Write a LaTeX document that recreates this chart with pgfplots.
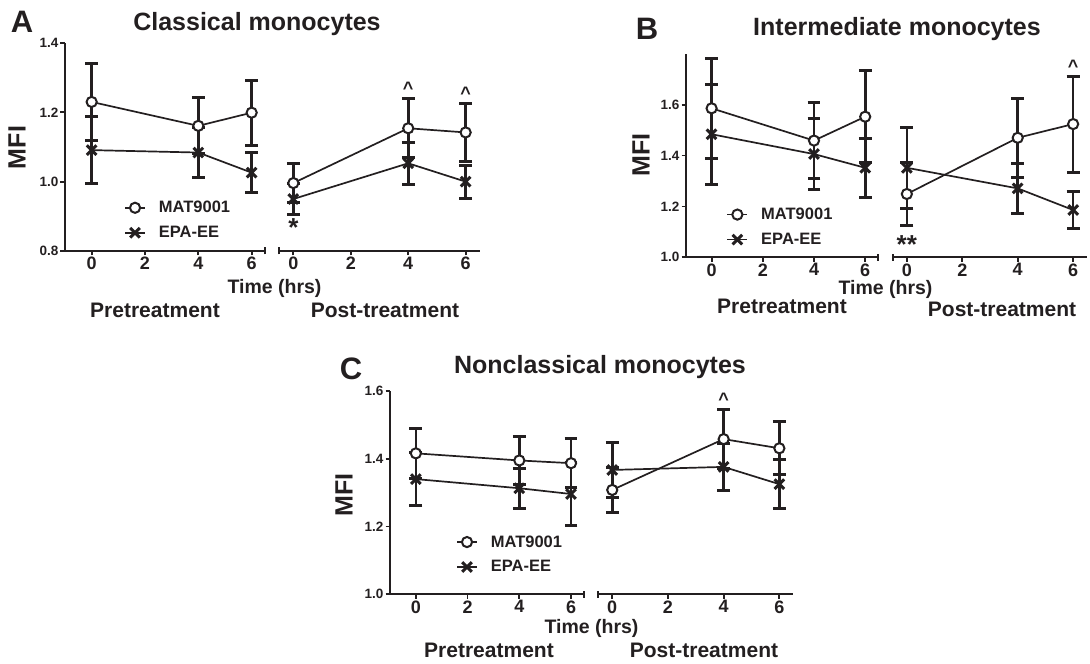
\documentclass[border=0pt]{standalone}
\usepackage{fontspec}
\setmainfont{Liberation Sans}
\usepackage{pgfplots}
\pgfplotsset{compat=1.18}

\newcommand{\fs}[1]{\fontsize{#1}{#1}\selectfont\bfseries}
\definecolor{ink}{HTML}{231F20}

\pgfplotsset{
  seg/.style={
    scale only axis, anchor=south west, clip=false,
    axis x line*=bottom,
    axis line style={line width=1.8pt, ink},
    tick style={line width=1.8pt, ink},
    major tick length=4.5pt, tick align=outside,
    xtick={0,2,4,6},
    /pgf/number format/assume math mode=true,
    x tick label style={font=\fs{18}, text=ink, inner sep=1.5pt},
    y tick label style={font=\fs{13.5}, text=ink, inner sep=2pt,
      /pgf/number format/fixed, /pgf/number format/fixed zerofill,
      /pgf/number format/precision=1},
  },
  segL/.style={seg, axis y line*=left, xmin=-1, xmax=6.5},
  segR/.style={seg, axis y line=none, xmin=-0.5, xmax=6.5},
  errs/.style={/pgfplots/error bars/y dir=both, /pgfplots/error bars/y explicit,
    /pgfplots/error bars/error bar style={line width=2.6pt, ink},
    /pgfplots/error bars/error mark options={rotate=90, ink, line width=3pt, mark size=6.4pt}},
  mat/.style={ink, line width=1.7pt, mark=*, mark size=5.1pt,
    mark options={fill=white, line width=2pt}, errs},
  epa/.style={ink, line width=1.7pt, mark=x, mark size=6.8pt,
    mark options={line width=3pt}, errs},
  leg/.style={legend cell align=left,
    legend style={draw=none, fill=none, at={#1}, anchor=north west,
      font=\fs{16.5}, text=ink, inner sep=0pt, row sep=12pt,
      nodes={inner sep=0pt},
      /tikz/every odd column/.append style={column sep=13pt}},
    legend image code/.code={\draw[mark repeat=2, mark phase=2]
      plot coordinates {(0pt,0pt) (10pt,0pt) (20pt,0pt)};}},
}
\tikzset{brk/.style={line width=1.8pt, ink}}

\begin{document}
\begin{tikzpicture}
\useasboundingbox (0pt,0pt) rectangle (1090pt,664pt);

% ---------------- A: Classical monocytes
\begin{axis}[segL, at={(65pt,413pt)}, width=200pt, height=208pt,
  ymin=0.8, ymax=1.4, ytick={0.8,1.0,1.2,1.4}, leg={(0.295,0.24)}]
\addplot[mat] coordinates {(0,1.230) +- (0,0.112) (4,1.161) +- (0,0.081) (6,1.199) +- (0,0.094)};
\addlegendentry{MAT9001}
\addplot[epa] coordinates {(0,1.091) +- (0,0.096) (4,1.084) +- (0,0.073) (6,1.026) +- (0,0.057)};
\addlegendentry{EPA-EE}
\draw[brk] (rel axis cs:1,0) ++(0pt,-3.5pt) -- ++(0pt,7pt);
\end{axis}
\begin{axis}[segR, at={(279pt,413pt)}, width=201pt, height=208pt,
  ymin=0.8, ymax=1.4]
\addplot[mat] coordinates {(0,0.996) +- (0,0.055) (4,1.154) +- (0,0.085) (6,1.142) +- (0,0.084)};
\addplot[epa] coordinates {(0,0.950) +- (0,0.045) (4,1.053) +- (0,0.060) (6,1.000) +- (0,0.048)};
\draw[brk] (rel axis cs:0,0) ++(0pt,-3.5pt) -- ++(0pt,7pt);
\node[font=\fs{26}, text=ink, inner sep=0pt, anchor=base, yshift=-22pt] at (axis cs:0,0.905) {*};
\node[font=\fs{18}, text=ink, inner sep=0pt, anchor=base, yshift=4pt] at (axis cs:4,1.239) {\textasciicircum};
\node[font=\fs{18}, text=ink, inner sep=0pt, anchor=base, yshift=4pt] at (axis cs:6,1.226) {\textasciicircum};
\end{axis}
\node[font=\fs{31}, text=ink, anchor=base] at (22pt,631pt) {A};
\node[font=\fs{25}, text=ink, anchor=base] at (257pt,633.3pt) {Classical monocytes};
\node[font=\fs{25}, text=ink, rotate=90] at (17pt,516.5pt) {MFI};
\node[font=\fs{19.5}, text=ink, anchor=base] at (274.5pt,370.7pt) {Time (hrs)};
\node[font=\fs{21}, text=ink, anchor=base] at (155pt,346.7pt) {Pretreatment};
\node[font=\fs{21}, text=ink, anchor=base] at (385pt,346.7pt) {Post-treatment};

% ---------------- B: Intermediate monocytes
\begin{axis}[segL, at={(686pt,406.7pt)}, width=192pt, height=203.4pt,
  ymin=1.0, ymax=1.8, ytick={1.0,1.2,1.4,1.6}, leg={(0.21,0.243)}]
\addplot[mat] coordinates {(0,1.586) +- (0,0.197) (4,1.459) +- (0,0.149) (6,1.553) +- (0,0.180)};
\addlegendentry{MAT9001}
\addplot[epa] coordinates {(0,1.484) +- (0,0.197) (4,1.406) +- (0,0.141) (6,1.352) +- (0,0.116)};
\addlegendentry{EPA-EE}
\draw[brk] (rel axis cs:1,0) ++(0pt,-3.5pt) -- ++(0pt,7pt);
\end{axis}
\begin{axis}[segR, at={(893pt,406.7pt)}, width=194pt, height=203.4pt,
  ymin=1.0, ymax=1.8]
\addplot[mat] coordinates {(0,1.249) +- (0,0.125) (4,1.470) +- (0,0.155) (6,1.524) +- (0,0.189)};
\addplot[epa] coordinates {(0,1.352) +- (0,0.160) (4,1.271) +- (0,0.098) (6,1.186) +- (0,0.072)};
\draw[brk] (rel axis cs:0,0) ++(0pt,-3.5pt) -- ++(0pt,7pt);
\node[font=\fs{26}, text=ink, inner sep=0pt, anchor=base, yshift=-28pt] at (axis cs:0,1.124) {**};
\node[font=\fs{18}, text=ink, inner sep=0pt, anchor=base, yshift=4pt] at (axis cs:6,1.713) {\textasciicircum};
\end{axis}
\node[font=\fs{31}, text=ink, anchor=base] at (647pt,624pt) {B};
\node[font=\fs{25}, text=ink, anchor=base] at (897pt,628pt) {Intermediate monocytes};
\node[font=\fs{25}, text=ink, rotate=90] at (641pt,509pt) {MFI};
\node[font=\fs{19.5}, text=ink, anchor=base] at (885.5pt,369.7pt) {Time (hrs)};
\node[font=\fs{21}, text=ink, anchor=base] at (782pt,350.7pt) {Pretreatment};
\node[font=\fs{21}, text=ink, anchor=base] at (1002pt,347.3pt) {Post-treatment};

% ---------------- C: Nonclassical monocytes
\begin{axis}[segL, at={(390pt,69.7pt)}, width=194pt, height=203.3pt,
  ymin=1.0, ymax=1.6, ytick={1.0,1.2,1.4,1.6}, leg={(0.34,0.29)}]
\addplot[mat] coordinates {(0,1.416) +- (0,0.073) (4,1.395) +- (0,0.070) (6,1.387) +- (0,0.073)};
\addlegendentry{MAT9001}
\addplot[epa] coordinates {(0,1.340) +- (0,0.079) (4,1.313) +- (0,0.059) (6,1.296) +- (0,0.094)};
\addlegendentry{EPA-EE}
\draw[brk] (rel axis cs:1,0) ++(0pt,-3.5pt) -- ++(0pt,7pt);
\end{axis}
\begin{axis}[segR, at={(598.3pt,69.7pt)}, width=195pt, height=203.3pt,
  ymin=1.0, ymax=1.6]
\addplot[mat] coordinates {(0,1.308) +- (0,0.066) (4,1.458) +- (0,0.086) (6,1.431) +- (0,0.078)};
\addplot[epa] coordinates {(0,1.367) +- (0,0.080) (4,1.376) +- (0,0.070) (6,1.325) +- (0,0.072)};
\draw[brk] (rel axis cs:0,0) ++(0pt,-3.5pt) -- ++(0pt,7pt);
\node[font=\fs{18}, text=ink, inner sep=0pt, anchor=base, yshift=4pt] at (axis cs:4,1.544) {\textasciicircum};
\end{axis}
\node[font=\fs{31}, text=ink, anchor=base] at (351pt,284pt) {C};
\node[font=\fs{25}, text=ink, anchor=base] at (600pt,290pt) {Nonclassical monocytes};
\node[font=\fs{25}, text=ink, rotate=90] at (344pt,169pt) {MFI};
\node[font=\fs{19.5}, text=ink, anchor=base] at (591.5pt,30.7pt) {Time (hrs)};
\node[font=\fs{21}, text=ink, anchor=base] at (489pt,6.7pt) {Pretreatment};
\node[font=\fs{21}, text=ink, anchor=base] at (704pt,6.7pt) {Post-treatment};
\end{tikzpicture}
\end{document}
